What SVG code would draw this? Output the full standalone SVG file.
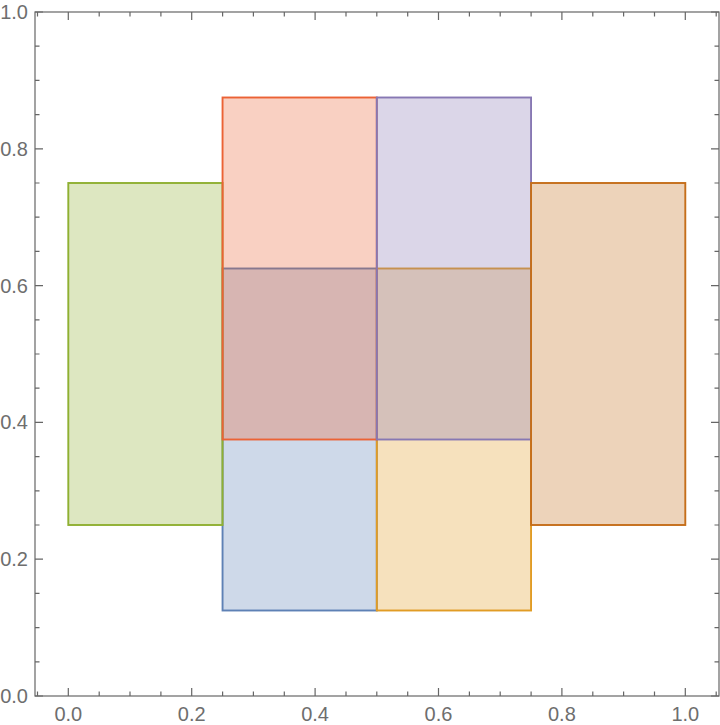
<svg xmlns="http://www.w3.org/2000/svg" width="720" height="725" viewBox="0 0 720 725">
<style>
.r{fill-opacity:0.3;stroke-width:1.9;stroke-linejoin:miter}
.ax{stroke:#666;stroke-width:1.2;fill:none}
.lb{font-family:"Liberation Sans",Arial,sans-serif;font-size:20px;fill:#6e6e6e}
.bx{text-anchor:middle}
.ly{text-anchor:end}
</style>
<rect width="720" height="725" fill="#fff"/>
<g id="frame" class="ax">
<rect x="35" y="12" width="684" height="684"/>
<path d="M37.5,696v-4.5M68.3,696v-8M99.2,696v-4.5M130,696v-4.5M160.9,696v-4.5M191.7,696v-8M222.6,696v-4.5M253.4,696v-4.5M284.3,696v-4.5M315.1,696v-8M346,696v-4.5M376.8,696v-4.5M407.7,696v-4.5M438.5,696v-8M469.4,696v-4.5M500.2,696v-4.5M531.1,696v-4.5M561.9,696v-8M592.8,696v-4.5M623.6,696v-4.5M654.5,696v-4.5M685.3,696v-8M716.2,696v-4.5"/>
<path d="M37.5,12v4.5M68.3,12v8M99.2,12v4.5M130,12v4.5M160.9,12v4.5M191.7,12v8M222.6,12v4.5M253.4,12v4.5M284.3,12v4.5M315.1,12v8M346,12v4.5M376.8,12v4.5M407.7,12v4.5M438.5,12v8M469.4,12v4.5M500.2,12v4.5M531.1,12v4.5M561.9,12v8M592.8,12v4.5M623.6,12v4.5M654.5,12v4.5M685.3,12v8M716.2,12v4.5"/>
<path d="M35,696h8M35,661.8h4.5M35,627.6h4.5M35,593.4h4.5M35,559.2h8M35,525h4.5M35,490.8h4.5M35,456.6h4.5M35,422.4h8M35,388.2h4.5M35,354h4.5M35,319.8h4.5M35,285.6h8M35,251.4h4.5M35,217.2h4.5M35,183h4.5M35,148.8h8M35,114.6h4.5M35,80.4h4.5M35,46.2h4.5M35,12h8"/>
<path d="M719,696h-8M719,661.8h-4.5M719,627.6h-4.5M719,593.4h-4.5M719,559.2h-8M719,525h-4.5M719,490.8h-4.5M719,456.6h-4.5M719,422.4h-8M719,388.2h-4.5M719,354h-4.5M719,319.8h-4.5M719,285.6h-8M719,251.4h-4.5M719,217.2h-4.5M719,183h-4.5M719,148.8h-8M719,114.6h-4.5M719,80.4h-4.5M719,46.2h-4.5M719,12h-8"/>
</g>
<g id="xlabels" class="lb bx">
<text x="68.3" y="721">0.0</text>
<text x="191.7" y="721">0.2</text>
<text x="315.1" y="721">0.4</text>
<text x="438.5" y="721">0.6</text>
<text x="561.9" y="721">0.8</text>
<text x="685.3" y="721">1.0</text>
</g>
<g id="ylabels" class="lb ly">
<text x="28" y="703">0.0</text>
<text x="28" y="566.2">0.2</text>
<text x="28" y="429.4">0.4</text>
<text x="28" y="292.6">0.6</text>
<text x="28" y="155.8">0.8</text>
<text x="28" y="19">1.0</text>
</g>
<g id="blue"><rect class="r" x="222.55" y="268.5" width="154.25" height="342" fill="#5E81B5" stroke="#5E81B5"/></g>
<g id="orange"><rect class="r" x="376.8" y="268.5" width="154.25" height="342" fill="#E19C24" stroke="#E19C24"/></g>
<g id="green"><rect class="r" x="68.3" y="183" width="154.25" height="342" fill="#8FB032" stroke="#8FB032"/></g>
<g id="red"><rect class="r" x="222.55" y="97.5" width="154.25" height="342" fill="#EB6235" stroke="#EB6235"/></g>
<g id="purple"><rect class="r" x="376.8" y="97.5" width="154.25" height="342" fill="#8778B3" stroke="#8778B3"/></g>
<g id="brown"><rect class="r" x="531.05" y="183" width="154.25" height="342" fill="#C56E1A" stroke="#C56E1A"/></g>
</svg>
